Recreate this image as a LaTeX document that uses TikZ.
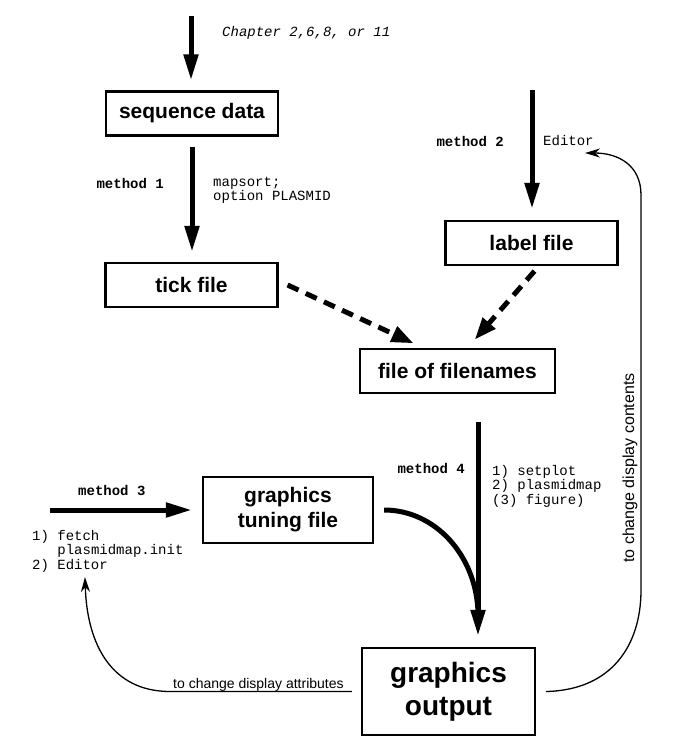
\documentclass[tikz,border=0pt]{standalone}
\usepackage{fontspec}
\setmainfont{Liberation Sans}
\newfontfamily\monofont{Liberation Mono}
\usetikzlibrary{arrows.meta}
\begin{document}
\begin{tikzpicture}[x=1pt,y=-1pt,
  box/.style={draw,line width=2.2pt,minimum width=172pt,minimum height=44pt,inner sep=0pt,
    font=\fontsize{21}{25}\selectfont\bfseries,align=center},
  bigarrow/.style={line width=5pt,-{Triangle[width=14pt,length=26pt]}},
  dasharrow/.style={line width=5pt,dash pattern=on 12pt off 8pt,-{Triangle[width=16pt,length=22pt]}},
  thinarrow/.style={line width=1.3pt,-{Stealth[width=9pt,length=15pt]}},
  mono/.style={font=\monofont\fontsize{14}{14.5}\selectfont,inner sep=0pt,align=left},
  monob/.style={font=\monofont\bfseries\fontsize{14}{14.5}\selectfont,inner sep=0pt},
  lbltext/.style={font=\fontsize{14}{16}\selectfont,inner sep=0pt}]
\useasboundingbox[fill=white] (0,0) rectangle (685,756);

% boxes
\node[box] (seq) at (192,113.5) {sequence data};
\node[box] (tick) at (191.5,285) {tick file};
\node[box] (lab) at (531.5,243) {label file};
\node[box,minimum width=195pt] (fof) at (457.5,371) {file of filenames};
\node[box,minimum width=170pt,minimum height=66pt] (tun) at (288,510) {graphics\\tuning file};
\node[box,minimum width=173pt,minimum height=87pt,font=\fontsize{28}{33}\selectfont\bfseries] (out) at (448.5,691.5) {graphics\\output};

% texts
\node[mono,anchor=west,font=\monofont\itshape\fontsize{14}{14.5}\selectfont] (chap) at (222,33) {Chapter 2,6,8, or 11};
\node[monob,anchor=east] (m1) at (164,183) {method 1};
\node[mono,anchor=west] (m1t) at (213,190.5) {mapsort;\\option PLASMID};
\node[monob,anchor=east] (m2) at (504,141) {method 2};
\node[mono,anchor=west] (m2t) at (543,141) {Editor};
\node[monob,anchor=east] (m4) at (465,468) {method 4};
\node[mono,anchor=west] (m4t) at (492,486) {1) setplot\\2) plasmidmap\\(3) figure)};
\node[monob,anchor=west] (m3) at (78,490) {method 3};
\node[mono,anchor=west] (m3t) at (32,551) {1) fetch\\\phantom{1) }plasmidmap.init\\2) Editor};
\node[lbltext,anchor=base west] (attr) at (173,688) {to change display attributes};
\node[lbltext,anchor=base,rotate=90,font=\fontsize{16}{18}\selectfont] (cont) at (634,468) {to change display contents};

% coordinates
\coordinate (top) at (191,16);
\coordinate (m2top) at (532,90);
\coordinate (m3start) at (50,510);
\coordinate (m4top) at (478,422);
\coordinate (m4merge) at (478,612);
\coordinate (ltip) at (85,577);
\coordinate (rtip) at (585,153);

% arrows
\draw[bigarrow,shorten >=10pt] (top) -- (seq.north -| top);
\draw[bigarrow,shorten <=10pt,shorten >=10pt] (seq.south) -- (tick.north -| seq.south);
\draw[bigarrow,shorten >=11pt] (m2top) -- (lab.north -| m2top);
\draw[bigarrow,shorten >=10pt] (m3start) -- (tun.west);
\draw[bigarrow,shorten >=11pt] (m4top) -- (out.north -| m4top);
\draw[line width=5pt] ([xshift=10pt]tun.east) .. controls (435,510) and (476,555) .. (m4merge);

\draw[dasharrow,shorten >=11pt] ([xshift=9pt]tick.east) -- ([xshift=-34pt]fof.north);
\draw[dasharrow,shorten >=11pt] ([xshift=3pt,yshift=-5pt]lab.south) -- ([xshift=10pt]fof.north);

% feedback loops
\draw[thinarrow] ([xshift=-9pt]out.west) -- (170,691.5) .. controls (112,691.5) and (87,645) .. (ltip);
\draw[thinarrow] ([xshift=10pt]out.east) .. controls (612,690) and (641,645) .. (641,590) -- (641,195) .. controls (641,165) and (618,153) .. (rtip);
\end{tikzpicture}
\end{document}
